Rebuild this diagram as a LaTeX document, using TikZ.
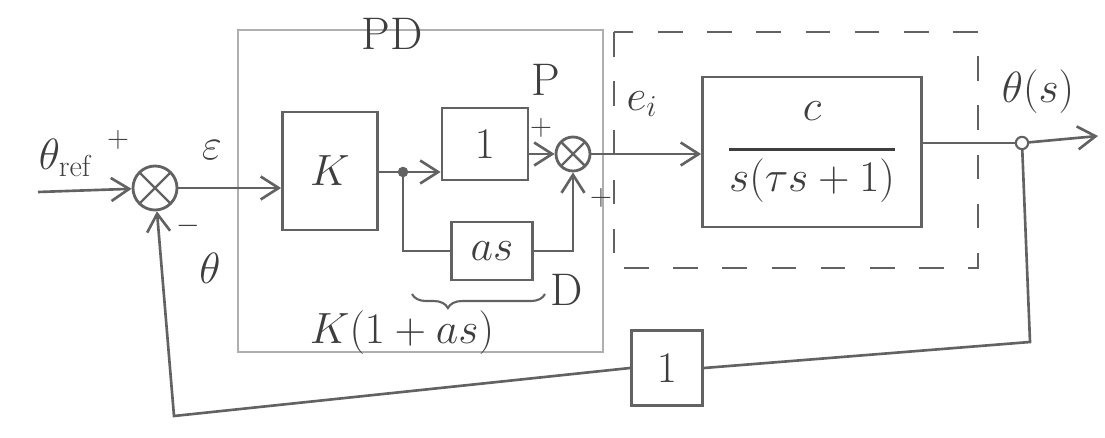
\documentclass[tikz,border=0pt]{standalone}
\usepackage{amsmath}
\usetikzlibrary{arrows.meta,decorations.pathreplacing,calc}
\definecolor{pencil}{RGB}{98,98,98}
\definecolor{lead}{RGB}{62,62,62}
\definecolor{faint}{RGB}{175,175,175}

\begin{document}
\begin{tikzpicture}[x=0.02cm,y=-0.02cm,
  every node/.style={font=\fontsize{26}{30}\selectfont,text=lead},
  line width=1.5pt,draw=pencil,
  >={Straight Barb[length=3.6mm,width=4.6mm]},
  blk/.style={draw=pencil,line width=1.6pt,inner sep=0pt},
  sm/.style={draw=pencil,circle,line width=1.6pt,inner sep=0pt,
    path picture={\draw[pencil,line width=1.4pt]
      (path picture bounding box.north west) -- (path picture bounding box.south east)
      (path picture bounding box.north east) -- (path picture bounding box.south west);}},
  big/.style={font=\fontsize{38}{44}\selectfont},
  mid/.style={font=\fontsize{29}{34}\selectfont},
  sgn/.style={font=\fontsize{18}{20}\selectfont}]
\useasboundingbox (0,0) rectangle (1105,438);

% PD part and plant frame
\draw[faint,line width=0.6pt] (238,30) rectangle (603,352);
\draw[pencil,dash pattern=on 14pt off 14pt] (614,32) rectangle (978,268);

% blocks
\node[sm,minimum size=0.88cm] (s1) at (155,188) {};
\node[blk,big,minimum width=1.9cm,minimum height=2.36cm] (k) at (330,171) {$K$};
\node[blk,big,minimum width=1.72cm,minimum height=1.44cm] (p) at (485,144) {$1$};
\node[blk,mid,minimum width=1.62cm,minimum height=1.16cm] (d) at (492,251) {$as$};
\node[sm,minimum size=0.68cm] (s2) at (573,154) {};
\node[blk,mid,minimum width=4.38cm,minimum height=3cm] (g) at (812,152)
  {$\genfrac{}{}{1.5pt}{0}{\raisebox{6pt}{$c$}}{s(\tau s+1)}$};
\node[blk,mid,minimum width=1.42cm,minimum height=1.5cm] (h) at (667,368) {$1$};

% labels
\node (lref) at (66,158) {$\theta_{\mathrm{ref}}$};
\node[sgn] (lp1) at (118,140) {$+$};
\node[sgn] (lm1) at (188,226) {$-$};
\node (lth) at (210,268) {$\theta$};
\node[mid] (leps) at (212,150) {$\varepsilon$};
\node (lpd) at (392,34) {PD};
\node (lP) at (546,80) {P};
\node[sgn] (lp2) at (541,128) {$+$};
\node[sgn] (lp3) at (601,198) {$+$};
\node (lD) at (567,290) {D};
\node (lei) at (642,104) {$e_i$};
\node (lout) at (1038,92) {$\theta(s)$};
\node (lpdtf) at (402,333) {$K(1+as)$};
\draw[decorate,decoration={brace,amplitude=8pt,aspect=0.27,mirror},line width=1.2pt]
  (412,294) -- (545,294);

% connectors
\coordinate (in) at (38,192);
\coordinate (br) at (403,172);
\coordinate (to) at (1022,143);
\coordinate (out) at (1098,136);
\coordinate (fr) at (1030,342);
\coordinate (fl) at (174,416);

\draw[->] (in) -- (s1);
\draw[->] (s1) -- (s1 -| k.west);
\draw (k.east |- br) -- (br);
\draw[->] (br) -- (br -| p.west);
\draw (br) |- (d.west);
\draw[->] (d.east) -| (s2.south);
\draw[->] (p.east |- s2) -- (s2.west);
\draw[->] (s2) -- (s2 -| g.west);
\draw (to -| g.east) -- (to);
\draw[->] (to) -- (out);
\draw (to) -- (fr) -- (h.east);
\draw[->] (h.west) -- (fl) -- (s1);
\fill[pencil] (br) circle (3pt);
\draw[fill=white,line width=1.2pt] (to) circle (3.5pt);
\end{tikzpicture}
\end{document}
